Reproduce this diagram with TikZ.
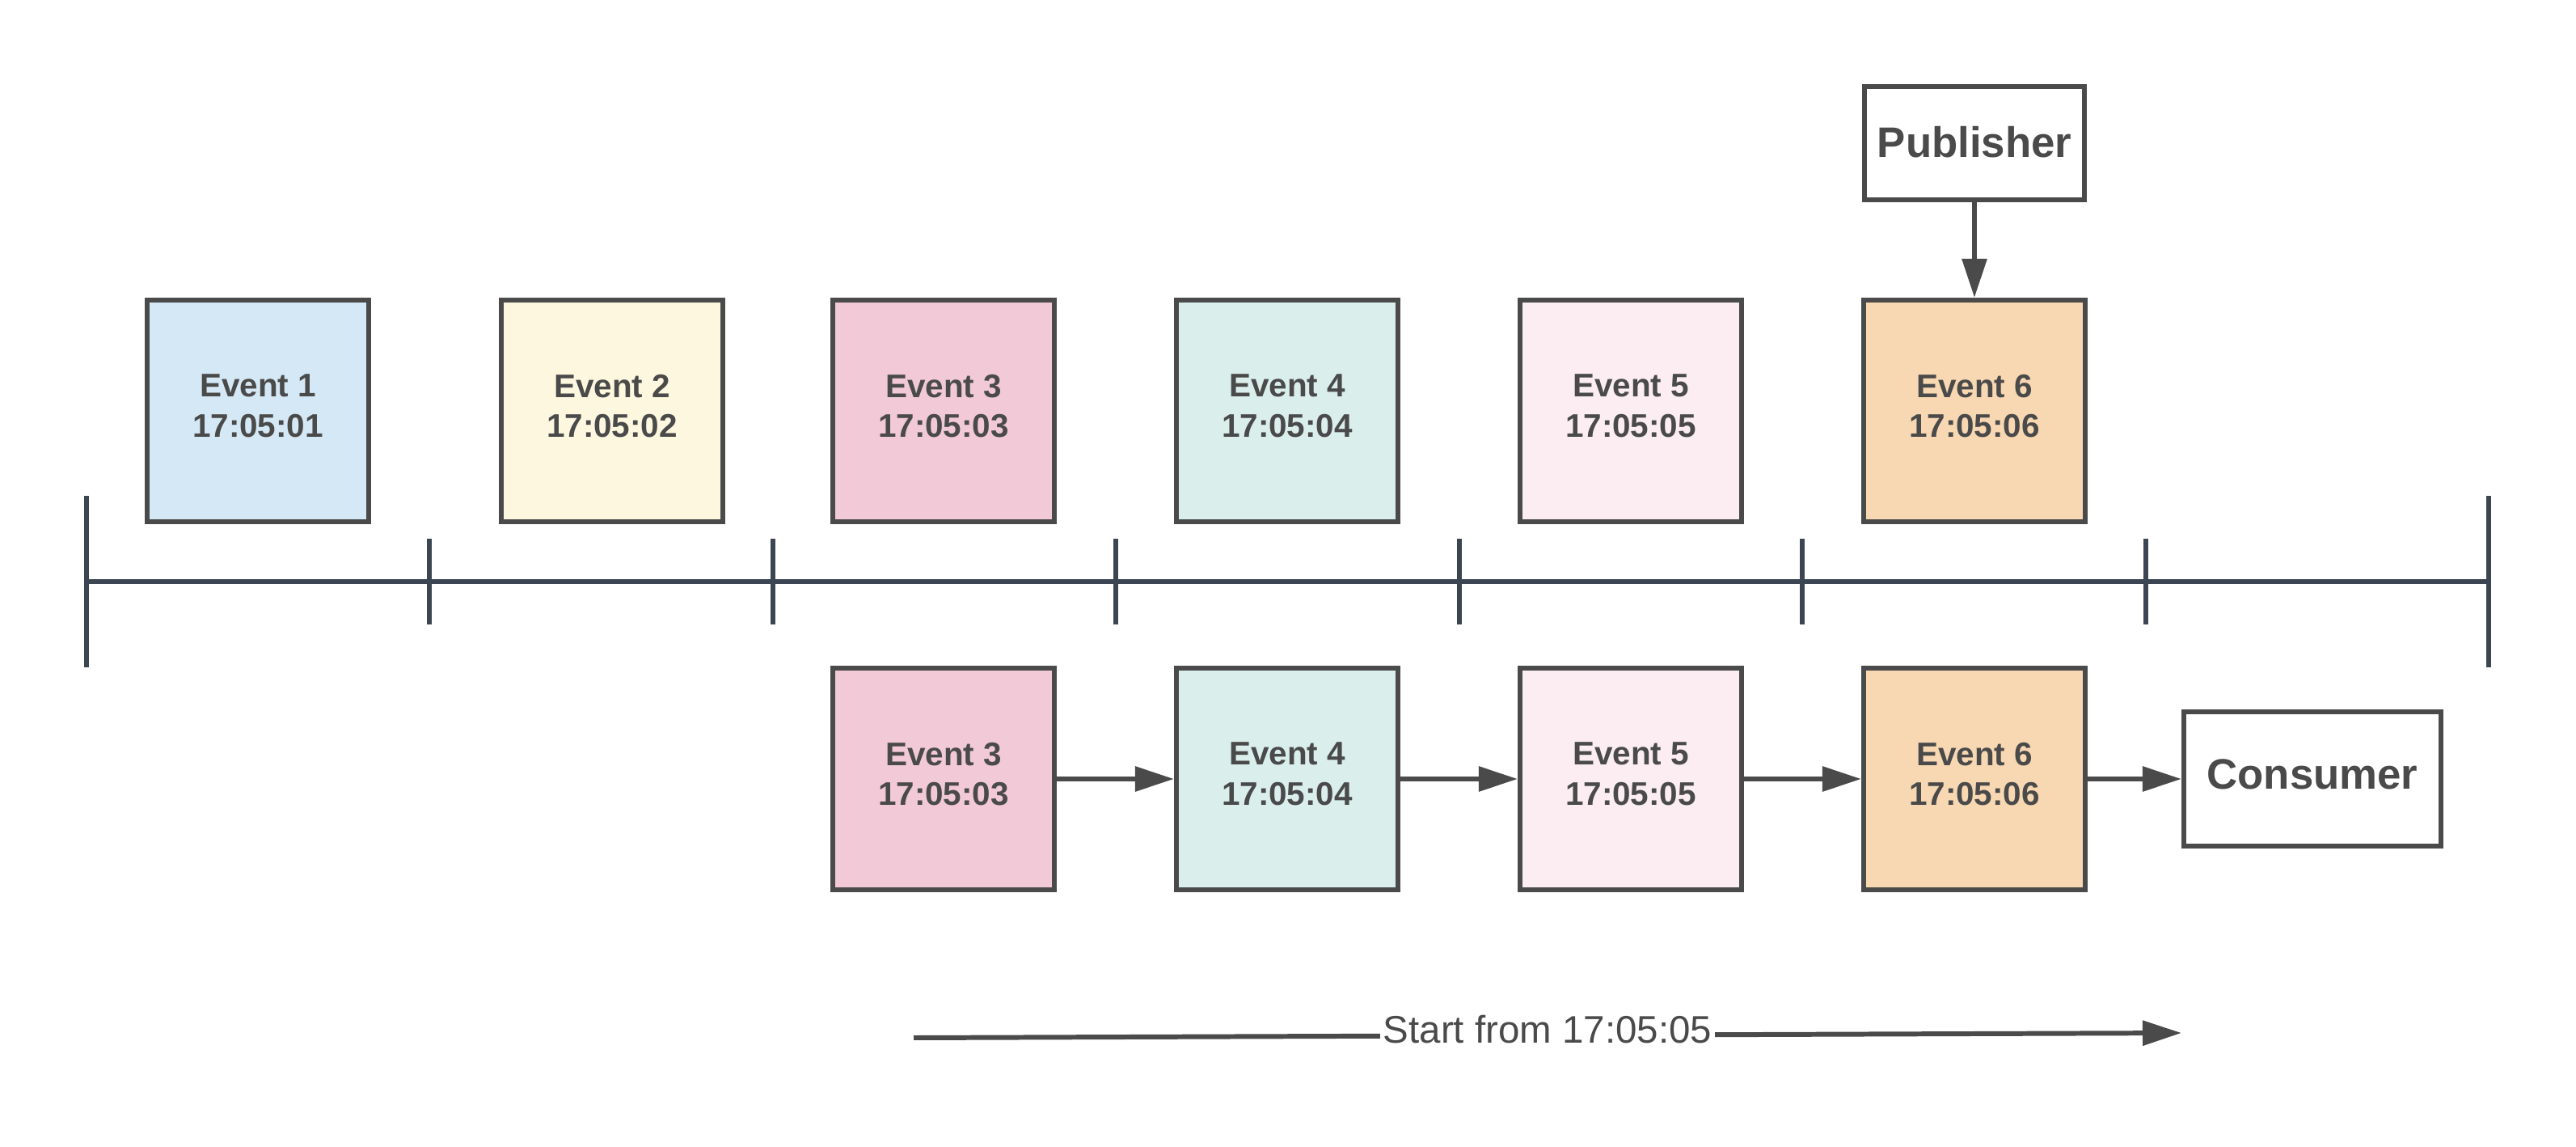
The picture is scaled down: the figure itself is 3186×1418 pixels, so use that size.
\documentclass[tikz,border=0pt]{standalone}
\usepackage{fontspec}
\setmainfont{Liberation Sans}
\usetikzlibrary{arrows.meta}
\definecolor{ink}{HTML}{4A4A4A}
\definecolor{axis}{HTML}{3C4652}
\definecolor{cA}{HTML}{D5E8F5}
\definecolor{cB}{HTML}{FEF7E0}
\definecolor{cC}{HTML}{F2C9D6}
\definecolor{cD}{HTML}{DAEFEC}
\definecolor{cE}{HTML}{FBEDF1}
\definecolor{cF}{HTML}{F8D8B2}
\begin{document}
\begin{tikzpicture}[x=0.01cm,y=-0.01cm,
  evbox/.style={draw=ink, line width=1.7pt, minimum width=2.74cm, minimum height=2.74cm,
    inner sep=0pt, align=center, font=\bfseries\fontsize{11.5}{14}\selectfont, text=ink,
    text depth=3.6pt},
  actor/.style={draw=ink, line width=1.7pt, fill=white, inner sep=0pt, align=center,
    font=\bfseries\fontsize{15}{18}\selectfont, text=ink},
  axisline/.style={draw=axis, line width=1.7pt},
  arr/.style={draw=ink, line width=1.7pt, -{Triangle[length=0.48cm,width=0.3cm]}}]
\useasboundingbox (0,0) rectangle (3186,1418);

% publisher
\node[actor, minimum width=2.71cm, minimum height=1.40cm, text depth=1.2pt] (pub) at (2442,177) {Publisher};

% top row
\node[evbox, fill=cA] (t1) at (319,508) {Event 1\\17:05:01};
\node[evbox, fill=cB] (t2) at (757,508) {Event 2\\17:05:02};
\node[evbox, fill=cC] (t3) at (1167,508) {Event 3\\17:05:03};
\node[evbox, fill=cD] (t4) at (1592,508) {Event 4\\17:05:04};
\node[evbox, fill=cE] (t5) at (2017,508) {Event 5\\17:05:05};
\node[evbox, fill=cF] (t6) at (2442,508) {Event 6\\17:05:06};

\draw[arr] (pub.south) -- (t6.north);

% timeline
\coordinate (tl0) at (107,719);
\coordinate (tl7) at (3078,719);
\draw[axisline] (tl0) -- (tl7);
\draw[axisline] (107,613) -- (107,825);
\draw[axisline] (3078,613) -- (3078,825);
\foreach \x in {531,956,1380,1805,2229,2654}
  \draw[axisline] (\x,666) -- (\x,772);

% bottom row
\node[evbox, fill=cC] (b3) at (1167,963) {Event 3\\17:05:03};
\node[evbox, fill=cD] (b4) at (1592,963) {Event 4\\17:05:04};
\node[evbox, fill=cE] (b5) at (2017,963) {Event 5\\17:05:05};
\node[evbox, fill=cF] (b6) at (2442,963) {Event 6\\17:05:06};
\node[actor, minimum width=3.18cm, minimum height=1.65cm, text depth=3.4pt] (con) at (2860,963) {Consumer};

\draw[arr] (b3.east) -- (b4.west);
\draw[arr] (b4.east) -- (b5.west);
\draw[arr] (b5.east) -- (b6.west);
\draw[arr] (b6.east) -- (con.west);

% start arrow
\coordinate (s0) at (1130,1283);
\coordinate (s1) at (2698,1277);
\draw[arr] (s0) -- node[fill=white, inner sep=1pt, yshift=2pt, text=ink,
  font=\fontsize{13.5}{16}\selectfont] (lbl) {Start from 17:05:05} (s1);
\end{tikzpicture}
\end{document}
